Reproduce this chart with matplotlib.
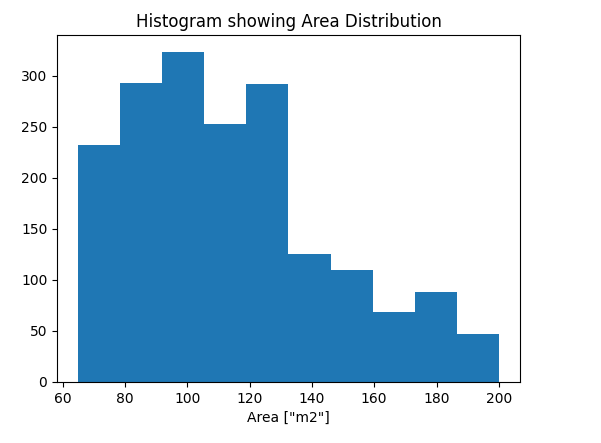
import numpy as np
import matplotlib
matplotlib.use("Agg")
import matplotlib.pyplot as plt

# bin edges and counts
bin_edges = [65, 78.5, 92, 105.5, 119, 132.5, 146, 159.5, 173, 186.5, 200]
counts = [232, 293, 324, 253, 292, 125, 110, 69, 88, 47]

centers = [(bin_edges[i] + bin_edges[i + 1]) / 2 for i in range(len(counts))]

fig = plt.figure(figsize=(6.01, 4.43), dpi=100)
ax = fig.add_axes([0.095, 0.138, 0.77, 0.783])
ax.hist(centers, bins=bin_edges, weights=counts, color="#1f77b4")
ax.set_title("Histogram showing Area Distribution")
ax.set_xlabel('Area ["m2"]')
fig.savefig("out.png", dpi=100)
